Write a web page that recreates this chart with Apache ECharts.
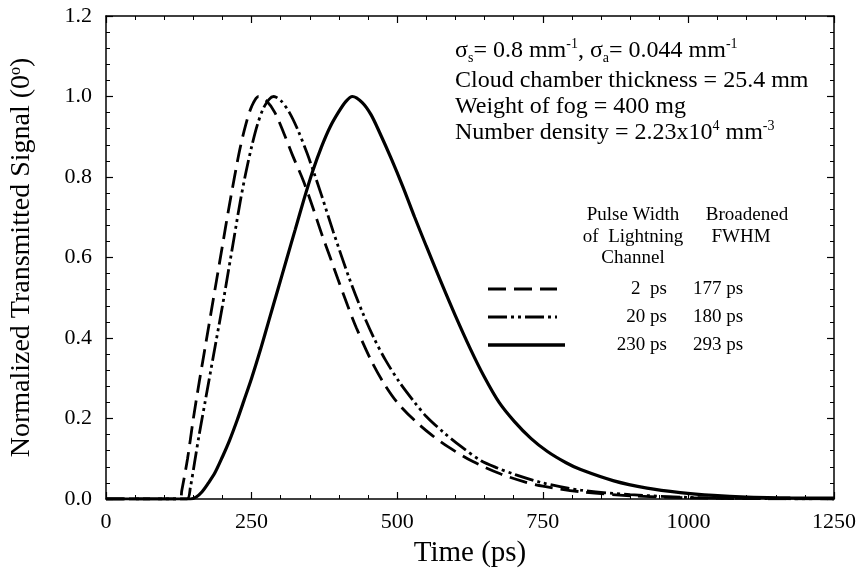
<!DOCTYPE html>
<html>
<head>
<meta charset="utf-8">
<script src="https://cdn.jsdelivr.net/npm/echarts@6/dist/echarts.min.js"></script>
<style>
html,body{margin:0;padding:0;background:#fff;}
#c{width:859px;height:573px;}
</style>
</head>
<body>
<div id="c"></div>
<script>
// ---- data ----
var xTicks = [0, 250, 500, 750, 1000, 1250];
var yTicks = [0.0, 0.2, 0.4, 0.6, 0.8, 1.0, 1.2];

var t2ps = [0, 100, 127, 130, 140, 150, 160, 170, 180, 190, 200, 210, 220, 230, 240, 250, 262, 275, 290, 305, 320, 339, 355, 370, 385, 398, 415, 430, 455, 476, 500, 530, 560, 587, 630, 678, 720, 750, 815, 900, 1000, 1100, 1250];
var v2ps = [0, 0, 0, 0.02, 0.10, 0.20, 0.29, 0.375, 0.46, 0.545, 0.63, 0.715, 0.795, 0.87, 0.93, 0.975, 1.0, 0.99, 0.96, 0.91, 0.855, 0.79, 0.725, 0.66, 0.60, 0.547, 0.48, 0.425, 0.345, 0.29, 0.24, 0.195, 0.158, 0.13, 0.093, 0.062, 0.042, 0.032, 0.018, 0.008, 0.003, 0.001, 0.0];

var t20ps = [0, 100, 139, 145, 152, 160, 170, 180, 190, 200, 210, 220, 230, 240, 250, 260, 270, 280, 288, 300, 315, 330, 345, 356, 370, 390, 418, 440, 460, 480, 504, 530, 550, 580, 610, 644, 672, 700, 750, 815, 900, 1000, 1100, 1250];
var v20ps = [0, 0, 0, 0.03, 0.09, 0.16, 0.24, 0.32, 0.40, 0.48, 0.565, 0.65, 0.735, 0.81, 0.875, 0.93, 0.97, 0.993, 1.0, 0.99, 0.96, 0.915, 0.86, 0.815, 0.755, 0.665, 0.547, 0.465, 0.40, 0.345, 0.29, 0.24, 0.205, 0.165, 0.13, 0.095, 0.077, 0.062, 0.04, 0.022, 0.011, 0.004, 0.0015, 0.0];

var t230ps = [0, 100, 145, 155, 165, 175, 187, 200, 212, 225, 237, 250, 265, 280, 295, 310, 325, 340, 355, 370, 385, 400, 412, 423, 440, 455, 470, 490, 510, 530, 550, 575, 600, 625, 649, 675, 701, 730, 758, 790, 815, 872, 929, 986, 1043, 1100, 1175, 1250];
var v230ps = [0, 0, 0, 0.005, 0.018, 0.038, 0.065, 0.105, 0.145, 0.195, 0.245, 0.30, 0.37, 0.445, 0.52, 0.595, 0.67, 0.745, 0.815, 0.875, 0.925, 0.963, 0.988, 1.0, 0.985, 0.955, 0.91, 0.845, 0.775, 0.70, 0.628, 0.54, 0.455, 0.375, 0.305, 0.24, 0.193, 0.15, 0.118, 0.09, 0.073, 0.045, 0.027, 0.016, 0.009, 0.005, 0.003, 0.002];

var legendPulse = ['2  ps', '20 ps', '230 ps'];
var legendFWHM = ['177 ps', '180 ps', '293 ps'];

// ---- chart ----
var FONT = '"Liberation Serif", "Times New Roman", serif';
function pairs(t, v) { return t.map(function (x, i) { return [x, v[i]]; }); }

var chart = echarts.init(document.getElementById('c'), null, {renderer: 'canvas'});

var dashA = [18, 8];
var dashB = [19, 4, 3, 4, 3, 4];

var axisCommon = {
  type: 'value',
  axisLine: {show: true, onZero: false, lineStyle: {color: '#000', width: 1.5}},
  axisTick: {show: true, inside: true, length: 7, lineStyle: {color: '#000', width: 1.2}},
  minorTick: {show: true, splitNumber: 5, length: 4, lineStyle: {color: '#000', width: 1}},
  splitLine: {show: false}
};

function ax(extra) { return Object.assign({}, JSON.parse(JSON.stringify(axisCommon)), extra); }

var option = {
  animation: false,
  backgroundColor: '#fff',
  grid: {left: 104, right: 25, top: 16, bottom: 71, containLabel: false},
  xAxis: [
    ax({position: 'bottom', min: 0, max: 1250, interval: 250,
      name: 'Time (ps)', nameLocation: 'middle', nameGap: 40,
      nameTextStyle: {fontFamily: FONT, fontSize: 29, color: '#000'},
      axisLabel: {margin: 12, fontFamily: FONT, fontSize: 22, color: '#000',
        formatter: function (v) { return xTicks.indexOf(v) >= 0 ? String(v) : ''; }}}),
    ax({position: 'top', min: 0, max: 1250, interval: 250, axisLabel: {show: false}})
  ],
  yAxis: [
    ax({position: 'left', min: 0, max: 1.2, interval: 0.2,
      name: 'Normalized Transmitted Signal (0{sup|o})', nameLocation: 'middle', nameGap: 70,
      nameTextStyle: {fontFamily: FONT, fontSize: 28, color: '#000',
        rich: {sup: {fontFamily: FONT, fontSize: 16, color: '#000', verticalAlign: 'top', lineHeight: 14}}},
      axisLabel: {margin: 14, fontFamily: FONT, fontSize: 22, color: '#000',
        formatter: function (v) { return v.toFixed(1); }}}),
    ax({position: 'right', min: 0, max: 1.2, interval: 0.2, axisLabel: {show: false}})
  ],
  series: [
    {name: '2 ps', type: 'line', data: pairs(t2ps, v2ps), showSymbol: false, smooth: 0.3,
      lineStyle: {color: '#000', width: 2.8, type: dashA}, z: 3},
    {name: '20 ps', type: 'line', data: pairs(t20ps, v20ps), showSymbol: false, smooth: 0.3,
      lineStyle: {color: '#000', width: 2.8, type: dashB}, z: 3},
    {name: '230 ps', type: 'line', data: pairs(t230ps, v230ps), showSymbol: false, smooth: 0.3,
      lineStyle: {color: '#000', width: 3.2, type: 'solid'}, z: 3}
  ],
  graphic: []
};

var rt = {
  n: {fontFamily: FONT, fontSize: 24, color: '#000', lineHeight: 28},
  sub: {fontFamily: FONT, fontSize: 14, color: '#000', verticalAlign: 'bottom', lineHeight: 10},
  sup: {fontFamily: FONT, fontSize: 14, color: '#000', verticalAlign: 'top', lineHeight: 14}
};
var annLines = [
  '{n|σ}{sub|s}{n|= 0.8 mm}{sup|-1}{n|, σ}{sub|a}{n|= 0.044 mm}{sup|-1}',
  '{n|Cloud chamber thickness = 25.4 mm}',
  '{n|Weight of fog = 400 mg}',
  '{n|Number density = 2.23x10}{sup|4}{n| mm}{sup|-3}'
];
var annY = [51, 81, 107, 133];
annLines.forEach(function (s, i) {
  option.graphic.push({type: 'text', x: 455, y: annY[i], style: {text: s, rich: rt, verticalAlign: 'middle', align: 'left'}});
});

var lf = {fontFamily: FONT, fontSize: 19, fill: '#000'};
function txt(s, x, y, align) {
  return {type: 'text', x: x, y: y, style: Object.assign({text: s, align: align, verticalAlign: 'middle'}, lf)};
}
option.graphic.push(txt('Pulse Width', 633, 215, 'center'));
option.graphic.push(txt('of  Lightning', 633, 237, 'center'));
option.graphic.push(txt('Channel', 633, 258, 'center'));
option.graphic.push(txt('Broadened', 747, 215, 'center'));
option.graphic.push(txt('FWHM', 741, 237, 'center'));
var rowY = [289, 317, 345];
var dashes = [dashA, dashB, null];
var ends = [557, 557, 565];
for (var i = 0; i < 3; i++) {
  option.graphic.push({type: 'line', shape: {x1: 488, y1: rowY[i], x2: ends[i], y2: rowY[i]},
    style: {stroke: '#000', lineWidth: i === 2 ? 3.4 : 3, lineDash: dashes[i]}});
  option.graphic.push(txt(legendPulse[i], 667, rowY[i], 'right'));
  option.graphic.push(txt(legendFWHM[i], 693, rowY[i], 'left'));
}

chart.setOption(option);
</script>
</body>
</html>
